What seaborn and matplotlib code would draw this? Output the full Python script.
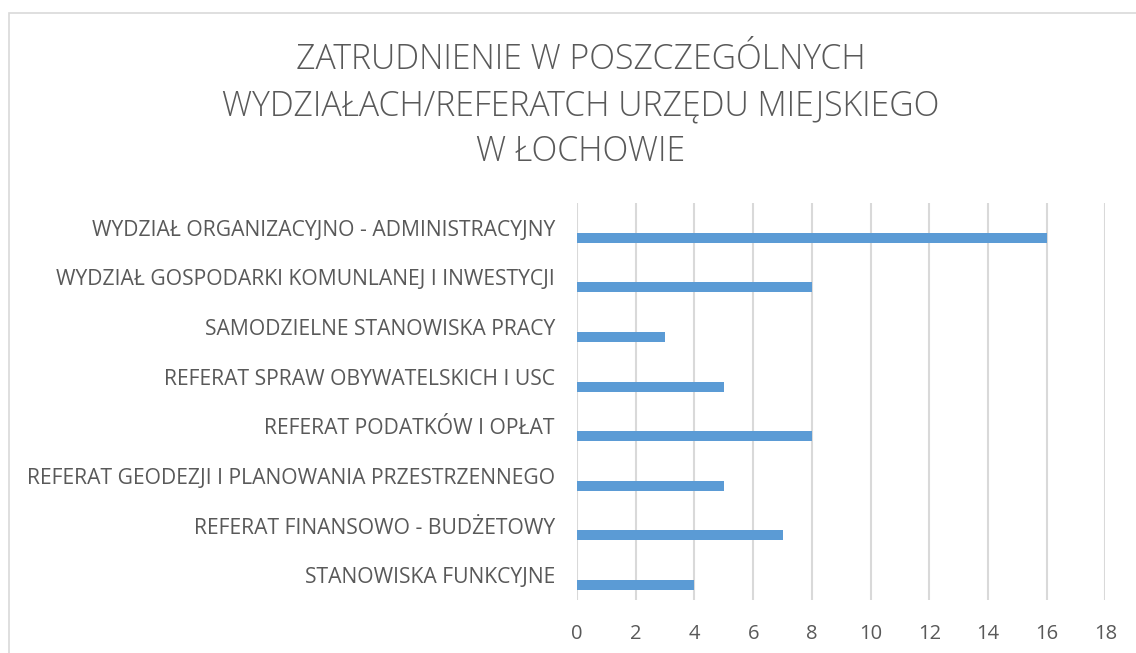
import pandas as pd
import matplotlib
matplotlib.use("Agg")
import matplotlib.pyplot as plt
from matplotlib.patches import Rectangle
import seaborn as sns

# dane z wykresu
wydzialy = [
    "WYDZIAŁ ORGANIZACYJNO - ADMINISTRACYJNY",
    "WYDZIAŁ GOSPODARKI KOMUNLANEJ I INWESTYCJI",
    "SAMODZIELNE STANOWISKA PRACY",
    "REFERAT SPRAW OBYWATELSKICH I USC",
    "REFERAT PODATKÓW I OPŁAT",
    "REFERAT GEODEZJI I PLANOWANIA PRZESTRZENNEGO",
    "REFERAT FINANSOWO - BUDŻETOWY",
    "STANOWISKA FUNKCYJNE",
]
liczba_etatow = [16, 8, 3, 5, 8, 5, 7, 4]
x_ticks = [0, 2, 4, 6, 8, 10, 12, 14, 16, 18]

TITLE = "ZATRUDNIENIE W POSZCZEGÓLNYCH\nWYDZIAŁACH/REFERATCH URZĘDU MIEJSKIEGO\nW ŁOCHOWIE"
TEXT_COLOR = "#595959"
GRID_COLOR = "#D9D9D9"
BAR_COLOR = "#5B9BD5"

df = pd.DataFrame({"wydzial": wydzialy, "liczba": liczba_etatow, "seria": "Liczba"})

sns.set_theme(style="white")
plt.rcParams["font.family"] = ["Open Sans", "DejaVu Sans"]

fig = plt.figure(figsize=(11.36, 6.53), dpi=100)
ax = fig.add_axes([0.508, 0.0812, 0.465, 0.608])

# Excel-like layout: an empty first series pushes the bars below the labels
sns.barplot(data=df, x="liczba", y="wydzial", hue="seria",
            hue_order=["puste", "Liczba"], palette=["#FFFFFF", BAR_COLOR],
            dodge=True, width=0.8, gap=0.5, legend=False, ax=ax,
            errorbar=None, linewidth=0, saturation=1)

ax.set_xlim(0, 18)
ax.set_xticks(x_ticks)
ax.set_xticklabels([str(t) for t in x_ticks])
ax.set_xlabel("")
ax.set_ylabel("")
ax.grid(axis="x", color=GRID_COLOR, linewidth=1.5)
ax.grid(axis="y", visible=False)
ax.set_axisbelow(True)
for s in ax.spines.values():
    s.set_visible(False)
ax.tick_params(axis="x", length=0, pad=17, labelsize=14.5, labelcolor=TEXT_COLOR)
ax.tick_params(axis="y", length=0, pad=16, labelsize=15.2, labelcolor=TEXT_COLOR)

fig.text(0.511, 0.838, TITLE, ha="center", va="center", fontsize=24.3,
         color=TEXT_COLOR, linespacing=1.42, fontweight="light")

# chart border
fig.add_artist(Rectangle((9 / 1136, -0.1), 1.2, 1 - 13 / 653 + 0.1,
                         transform=fig.transFigure, fill=False,
                         edgecolor=GRID_COLOR, linewidth=1.2))

fig.savefig("out.png", dpi=100)
